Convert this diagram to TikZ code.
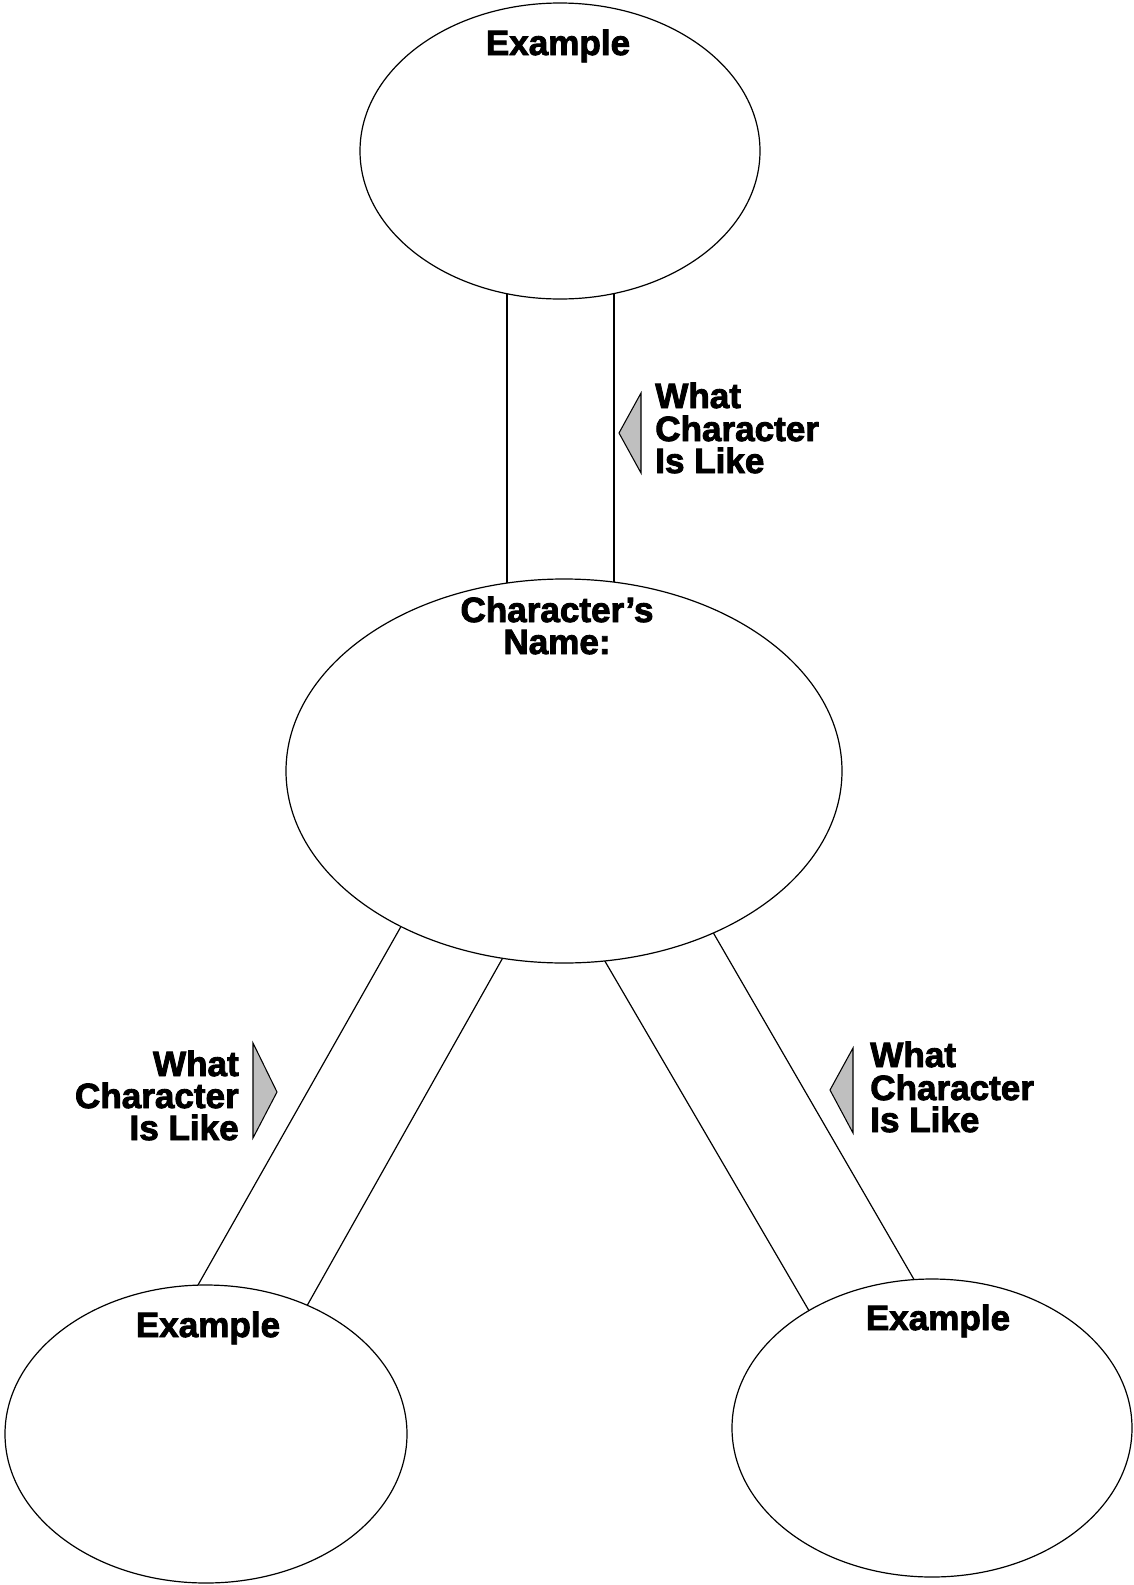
\documentclass[tikz,border=0pt]{standalone}
\usepackage{fontspec}
\newfontfamily\heavy{Liberation Sans Bold}[FakeBold=2.5]
\usetikzlibrary{shapes.geometric,calc}
\begin{document}
\begin{tikzpicture}[x=0.75pt,y=-0.75pt,
  bubble/.style={draw, line width=0.9pt, fill=white, ellipse, inner sep=0pt},
  band/.style={line width=0.9pt},
  pointer/.style={draw, line width=0.8pt, fill=black!25},
  lbl/.style={font=\heavy\fontsize{26.3}{26}\selectfont, inner sep=0pt}]
\useasboundingbox (0,0) rectangle (1133,1585);
% band end coordinates
\coordinate (va1) at (507,300); \coordinate (vb1) at (507,580);
\coordinate (va2) at (614,300); \coordinate (vb2) at (614,580);
\coordinate (la1) at (399,930); \coordinate (lb1) at (198,1285);
\coordinate (la2) at (501,961); \coordinate (lb2) at (308,1304);
\coordinate (ra1) at (606,963); \coordinate (rb1) at (808,1309);
\coordinate (ra2) at (714,934); \coordinate (rb2) at (912,1276);
\foreach \a/\b in {va1/vb1,va2/vb2,la1/lb1,la2/lb2,ra1/rb1,ra2/rb2}
  \draw[band] ($(\a)!-0.15!(\b)$) -- ($(\a)!1.15!(\b)$);
% ellipses
\node[bubble, minimum width=300pt, minimum height=222pt] (top) at (560,151) {};
\node[bubble, minimum width=417pt, minimum height=288pt] (mid) at (564,771) {};
\node[bubble, minimum width=301.5pt, minimum height=223.5pt] (bl) at (206,1434) {};
\node[bubble, minimum width=300pt, minimum height=223.5pt] (br) at (932,1428) {};
% pointers
\draw[pointer] (619,433) -- (641,393) -- (641,473) -- cycle;
\draw[pointer] (277,1092) -- (253,1043) -- (253,1138) -- cycle;
\draw[pointer] (830,1090) -- (853,1048) -- (853,1133) -- cycle;
% texts
\node[lbl, anchor=base] (ex1) at (558,55) {Example};
\node[lbl, anchor=base] (cn1) at (557,622) {Character’s};
\node[lbl, anchor=base] (cn2) at (557,654) {Name:};
\node[lbl, anchor=base] (ex2) at (208,1337) {Example};
\node[lbl, anchor=base] (ex3) at (938,1330) {Example};
\node[lbl, anchor=base west] (t1) at (655,408) {What};
\node[lbl, anchor=base west] (t2) at (655,441) {Character};
\node[lbl, anchor=base west] (t3) at (655,473) {Is Like};
\node[lbl, anchor=base east] (l1) at (239,1076) {What};
\node[lbl, anchor=base east] (l2) at (239,1108) {Character};
\node[lbl, anchor=base east] (l3) at (239,1140) {Is Like};
\node[lbl, anchor=base west] (r1) at (870,1067) {What};
\node[lbl, anchor=base west] (r2) at (870,1100) {Character};
\node[lbl, anchor=base west] (r3) at (870,1132) {Is Like};
\end{tikzpicture}
\end{document}
